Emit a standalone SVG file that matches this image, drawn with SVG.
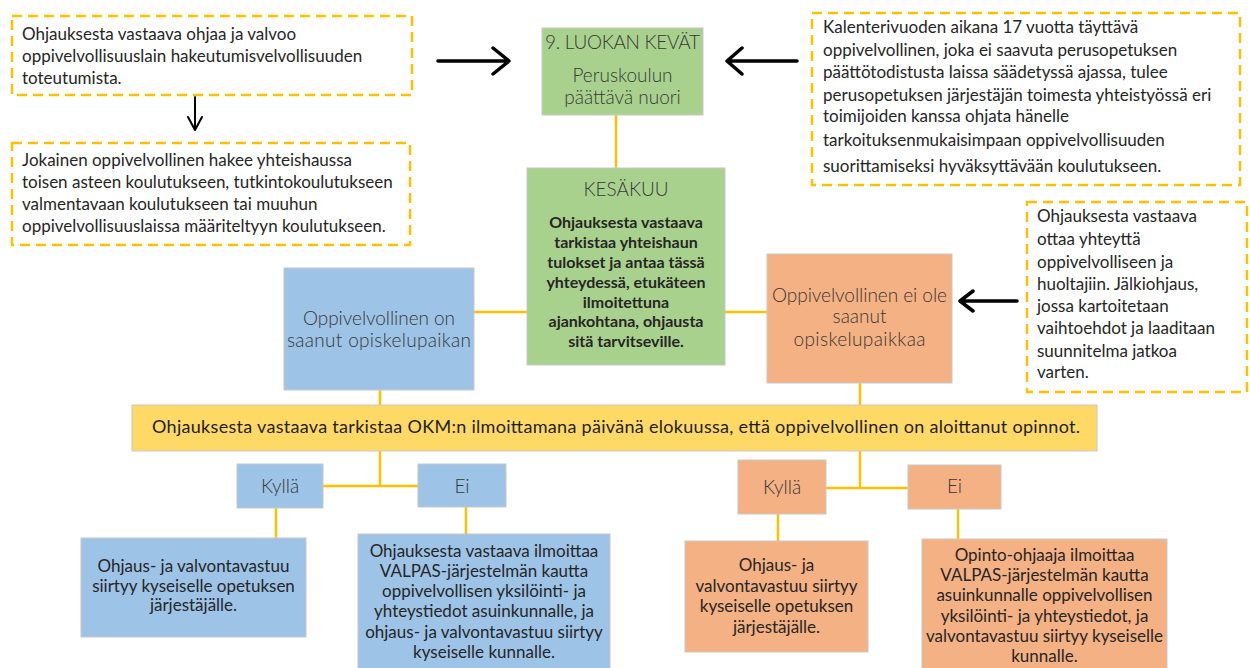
<svg xmlns="http://www.w3.org/2000/svg" width="1250" height="668" viewBox="0 0 1250 668">
<style>
.dash{fill:#fff;stroke:#FFC000;stroke-width:2.5;stroke-dasharray:10 6}
.box{stroke:#C8C8C8;stroke-width:1}
.g{fill:#A9D18E}.b{fill:#9DC3E6}.o{fill:#F4B183}.y{fill:#FFD966}
.t{font-family:Lato,"Liberation Sans",sans-serif;font-size:17px;fill:#262626}
.c{text-anchor:middle}
.tb{font-weight:700;font-size:16px}
.lt{font-family:Lato,"Liberation Sans",sans-serif;font-weight:300;font-size:19px;fill:#383838;text-anchor:middle}
.bar{font-family:Lato,"Liberation Sans",sans-serif;font-size:18px;fill:#1e1e1e;text-anchor:middle}
.con line{stroke:#FFC000;stroke-width:2.5}
.arr{stroke:#000;stroke-width:3.5;fill:none;stroke-linecap:round;stroke-linejoin:round}
</style>
<rect width="1250" height="668" fill="#fff"/>

<g id="connectors" class="con">
  <line x1="616" y1="115" x2="616" y2="168"/>
  <line x1="474" y1="312" x2="527" y2="312"/>
  <line x1="725" y1="312" x2="767" y2="312"/>
  <line x1="380" y1="390" x2="380" y2="405"/>
  <line x1="860" y1="383" x2="860" y2="405"/>
  <line x1="380" y1="451" x2="380" y2="487"/>
  <line x1="323" y1="486" x2="418" y2="486"/>
  <line x1="860" y1="451" x2="860" y2="489"/>
  <line x1="826" y1="488" x2="908" y2="488"/>
  <line x1="276" y1="508" x2="276" y2="538"/>
  <line x1="466" y1="507" x2="466" y2="534"/>
  <line x1="778" y1="514" x2="778" y2="541"/>
  <line x1="958" y1="509" x2="958" y2="539"/>
  <path class="arr" d="M438 61 H508 M493 48 L509 61 L493 74"/>
  <path class="arr" d="M797 61 H728 M742 48 L727 61 L742 74"/>
  <path class="arr" d="M1017 301 H961 M973 291 L960 301 L973 311"/>
  <path class="arr" style="stroke-width:2" d="M195 97 V129 M188 117 L195 130 L202 117"/>
</g>

<g id="note-ohjaa">
  <rect class="dash" x="12" y="16" width="400" height="79"/>
  <text class="t" x="22" y="40">Ohjauksesta vastaava ohjaa ja valvoo</text>
  <text class="t" x="22" y="62">oppivelvollisuuslain  hakeutumisvelvollisuuden</text>
  <text class="t" x="22" y="84">toteutumista.</text>
</g>

<g id="note-yhteishaku">
  <rect class="dash" x="12" y="143" width="398" height="102"/>
  <text class="t" x="22" y="166">Jokainen oppivelvollinen  hakee yhteishaussa</text>
  <text class="t" x="22" y="188">toisen asteen koulutukseen,  tutkintokoulutukseen</text>
  <text class="t" x="22" y="210">valmentavaan  koulutukseen  tai muuhun</text>
  <text class="t" x="22" y="232">oppivelvollisuuslaissa  määriteltyyn  koulutukseen.</text>
</g>

<g id="node-kevat">
  <rect class="box g" x="542" y="28" width="161" height="87"/>
  <text class="lt" x="622.5" y="49" textLength="155">9. LUOKAN KEVÄT</text>
  <text class="lt" x="622.5" y="82">Peruskoulun</text>
  <text class="lt" x="622.5" y="104">päättävä nuori</text>
</g>

<g id="note-17v">
  <rect class="dash" x="812" y="13" width="428" height="172"/>
  <text class="t" x="823" y="33">Kalenterivuoden  aikana 17 vuotta täyttävä</text>
  <text class="t" x="823" y="56">oppivelvollinen,  joka ei saavuta perusopetuksen</text>
  <text class="t" x="823" y="78">päättötodistusta laissa säädetyssä ajassa, tulee</text>
  <text class="t" x="823" y="101">perusopetuksen  järjestäjän toimesta yhteistyössä eri</text>
  <text class="t" x="823" y="122">toimijoiden  kanssa ohjata hänelle</text>
  <text class="t" x="823" y="146">tarkoituksenmukaisimpaan  oppivelvollisuuden</text>
  <text class="t" x="823" y="172">suorittamiseksi  hyväksyttävään koulutukseen.</text>
</g>

<g id="node-kesakuu">
  <rect class="box g" x="527" y="168" width="198" height="197"/>
  <text class="lt" x="626" y="196">KESÄKUU</text>
  <text class="t tb c" x="626" y="228">Ohjauksesta vastaava</text>
  <text class="t tb c" x="626" y="248">tarkistaa yhteishaun</text>
  <text class="t tb c" x="626" y="268">tulokset ja antaa tässä</text>
  <text class="t tb c" x="626" y="288">yhteydessä, etukäteen</text>
  <text class="t tb c" x="626" y="308">ilmoitettuna</text>
  <text class="t tb c" x="626" y="327">ajankohtana, ohjausta</text>
  <text class="t tb c" x="626" y="347">sitä tarvitseville.</text>
</g>

<g id="note-jalkiohjaus">
  <rect class="dash" x="1027" y="202" width="220" height="190"/>
  <text class="t" x="1037" y="222">Ohjauksesta vastaava</text>
  <text class="t" x="1037" y="245">ottaa yhteyttä</text>
  <text class="t" x="1037" y="268">oppivelvolliseen  ja</text>
  <text class="t" x="1037" y="290">huoltajiin. Jälkiohjaus,</text>
  <text class="t" x="1037" y="312">jossa kartoitetaan</text>
  <text class="t" x="1037" y="334">vaihtoehdot  ja laaditaan</text>
  <text class="t" x="1037" y="357">suunnitelma  jatkoa</text>
  <text class="t" x="1037" y="378">varten.</text>
</g>

<g id="node-saanut">
  <rect class="box b" x="284" y="268" width="190" height="122"/>
  <text class="lt" x="379" y="325" textLength="152">Oppivelvollinen on</text>
  <text class="lt" x="379" y="347" textLength="184">saanut opiskelupaikan</text>
</g>

<g id="node-ei-saanut">
  <rect class="box o" x="767" y="254" width="185" height="129"/>
  <text class="lt" x="859.5" y="302" textLength="175">Oppivelvollinen ei ole</text>
  <text class="lt" x="859.5" y="323">saanut</text>
  <text class="lt" x="859.5" y="346" textLength="132">opiskelupaikkaa</text>
</g>

<g id="node-elokuu">
  <rect class="box y" x="132" y="405" width="965" height="46"/>
  <text class="bar" x="616" y="433" textLength="928">Ohjauksesta vastaava tarkistaa OKM:n ilmoittamana päivänä elokuussa, että oppivelvollinen on aloittanut opinnot.</text>
</g>

<g id="node-kylla-b">
  <rect class="box b" x="237" y="464" width="86" height="44"/>
  <text class="lt" x="280" y="493">Kyllä</text>
</g>
<g id="node-ei-b">
  <rect class="box b" x="418" y="464" width="88" height="43"/>
  <text class="lt" x="462" y="493">Ei</text>
</g>
<g id="node-kylla-o">
  <rect class="box o" x="738" y="460" width="88" height="54"/>
  <text class="lt" x="782" y="494">Kyllä</text>
</g>
<g id="node-ei-o">
  <rect class="box o" x="908" y="465" width="93" height="44"/>
  <text class="lt" x="954.5" y="493">Ei</text>
</g>

<g id="node-kylla-b-res">
  <rect class="box b" x="81" y="538" width="225" height="99"/>
  <text class="t c" x="193.5" y="572">Ohjaus- ja valvontavastuu</text>
  <text class="t c" x="193.5" y="592">siirtyy kyseiselle  opetuksen</text>
  <text class="t c" x="193.5" y="611">järjestäjälle.</text>
</g>

<g id="node-ei-b-res">
  <rect class="box b" x="358" y="534" width="252" height="140"/>
  <text class="t c" x="484" y="557">Ohjauksesta vastaava ilmoittaa</text>
  <text class="t c" x="484" y="577">VALPAS-järjestelmän  kautta</text>
  <text class="t c" x="484" y="597">oppivelvollisen  yksilöinti-  ja</text>
  <text class="t c" x="484" y="617">yhteystiedot  asuinkunnalle,  ja</text>
  <text class="t c" x="484" y="638">ohjaus-  ja valvontavastuu  siirtyy</text>
  <text class="t c" x="484" y="658">kyseiselle  kunnalle.</text>
</g>

<g id="node-kylla-o-res">
  <rect class="box o" x="685" y="541" width="183" height="111"/>
  <text class="t c" x="776.5" y="571">Ohjaus-  ja</text>
  <text class="t c" x="776.5" y="592">valvontavastuu  siirtyy</text>
  <text class="t c" x="776.5" y="612">kyseiselle  opetuksen</text>
  <text class="t c" x="776.5" y="633">järjestäjälle.</text>
</g>

<g id="node-ei-o-res">
  <rect class="box o" x="922" y="539" width="245" height="135"/>
  <text class="t c" x="1044.5" y="561">Opinto-ohjaaja  ilmoittaa</text>
  <text class="t c" x="1044.5" y="581">VALPAS-järjestelmän  kautta</text>
  <text class="t c" x="1044.5" y="601">asuinkunnalle  oppivelvollisen</text>
  <text class="t c" x="1044.5" y="622">yksilöinti-  ja yhteystiedot,  ja</text>
  <text class="t c" x="1044.5" y="642">valvontavastuu  siirtyy kyseiselle</text>
  <text class="t c" x="1044.5" y="662">kunnalle.</text>
</g>
</svg>
